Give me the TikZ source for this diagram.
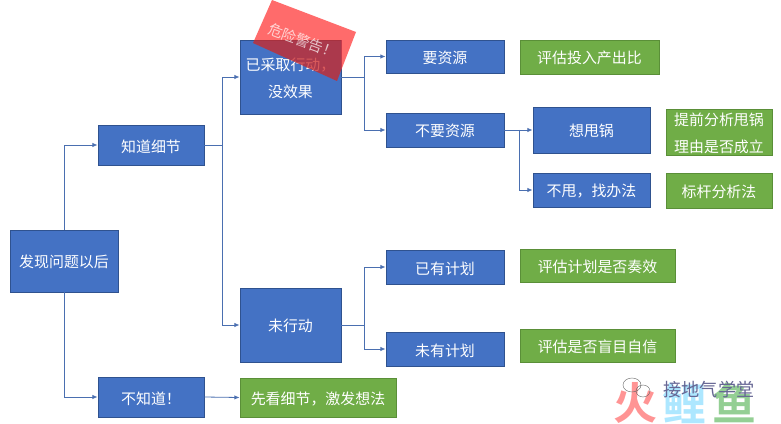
\documentclass[tikz,border=0pt]{standalone}
\usepackage{fontspec}
\setmainfont{Noto Sans CJK SC}
\newfontfamily\cjkbold{Noto Sans CJK SC Bold}
\usetikzlibrary{arrows.meta,positioning}
\definecolor{bluefill}{HTML}{4472C4}
\definecolor{blueline}{HTML}{2F528F}
\definecolor{greenfill}{HTML}{70AD47}
\definecolor{greenline}{HTML}{5A8F38}
\definecolor{linkcol}{HTML}{4A6FB0}
\definecolor{stampred}{HTML}{FF3232}
\tikzset{
  x=0.75pt,y=-0.75pt,
  bluebox/.style={draw=blueline,line width=0.7pt,fill=bluefill,text=white,font=\fontsize{11.2pt}{20.4pt}\selectfont,align=center,inner sep=0pt,anchor=center},
  greenbox/.style={draw=greenline,line width=0.7pt,fill=greenfill,text=white,font=\fontsize{11.2pt}{20.4pt}\selectfont,align=center,inner sep=0pt,anchor=center},
  link/.style={draw=linkcol,line width=0.6pt,-{Latex[length=3.8pt,width=3.2pt]}},
  plainlink/.style={draw=linkcol,line width=0.6pt},
}
\newcommand{\bbox}[6]{% name, x0, y0, x1, y1, text
  \pgfmathsetmacro{\bw}{(#4-#2)*0.75}\pgfmathsetmacro{\bh}{(#5-#3)*0.75}
  \node[bluebox,minimum width=\bw pt,minimum height=\bh pt] (#1) at ({(#2+#4)/2},{(#3+#5)/2}) {\rule{0pt}{11.4pt}#6};}
\newcommand{\gbox}[6]{%
  \pgfmathsetmacro{\bw}{(#4-#2)*0.75}\pgfmathsetmacro{\bh}{(#5-#3)*0.75}
  \node[greenbox,minimum width=\bw pt,minimum height=\bh pt] (#1) at ({(#2+#4)/2},{(#3+#5)/2}) {\rule{0pt}{11.4pt}#6};}
\begin{document}
\begin{tikzpicture}
\useasboundingbox (0,0) rectangle (781,424);
\fill[white] (0,0) rectangle (781,424);
% boxes
\bbox{root}{10}{230}{118}{292}{发现问题以后}
\bbox{know}{98}{125}{204}{165}{知道细节}
\bbox{noknow}{98}{377}{204}{417}{不知道！}
\gbox{look}{240}{378}{396}{417}{先看细节，激发想法}
\bbox{acted}{240}{40}{341}{114}{已采取行动，\\没效果}
\bbox{notacted}{240}{288}{341}{362}{未行动}
\bbox{need}{386}{40}{504}{73}{要资源}
\bbox{noneed}{386}{113}{504}{147}{不要资源}
\bbox{dump}{533}{107}{650}{153}{想甩锅}
\bbox{nodump}{533}{173}{650}{207}{不甩，找办法}
\bbox{plan}{386}{250}{504}{284}{已有计划}
\bbox{noplan}{386}{332}{504}{366}{未有计划}
\gbox{roi}{520}{40}{659}{74}{评估投入产出比}
\gbox{reason}{666}{109}{772}{155}{提前分析甩锅\\理由是否成立}
\gbox{bench}{666}{173}{772}{208}{标杆分析法}
\gbox{work}{520}{249}{675}{282.5}{评估计划是否奏效}
\gbox{blind}{520}{329}{675}{362.5}{评估是否盲目自信}
% junctions
\coordinate (j1) at (222,145);
\coordinate (j2) at (364,77);
\coordinate (j3) at (364,325);
\coordinate (j4) at (519,130);
% connectors
\draw[link] (root.north) |- (know.west);
\draw[link] (root.south) |- (noknow.west);
\draw[plainlink] (know.east) -- (j1);
\draw[link] (j1) |- (acted.west);
\draw[link] (j1) |- (notacted.west);
\draw[plainlink] (acted.east) -- (j2);
\draw[link] (j2) |- (need.west);
\draw[link] (j2) |- (noneed.west);
\draw[plainlink] (notacted.east) -- (j3);
\draw[link] (j3) |- (plan.west);
\draw[link] (j3) |- (noplan.west);
\draw[plainlink] (noneed.east) -- (j4);
\draw[link] (j4) -- (dump.west |- j4);
\draw[link] (j4) |- (nodump.west);
\draw[link] (noknow.east) -- (look.west);
% warning stamp
\fill[stampred,fill opacity=0.72] (272,0) -- (356,32) -- (337,81) -- (253,43) -- cycle;
\begin{scope}
\clip (272,0) -- (356,32) -- (337,81) -- (253,43) -- cycle;
\fill[black,fill opacity=0.15] (240,40) rectangle (341,114);
\end{scope}
\node[text=white,text opacity=0.7,rotate=-20,font=\fontsize{10.8pt}{14pt}\selectfont,inner sep=0pt] (warn) at (303,41) {危险警告！};
% watermark
\node[text=red!42!white,font=\fontsize{33pt}{33pt}\selectfont,inner sep=0pt] (wm1) at (635,403) {\cjkbold 火};
\node[text=blue!30!cyan!32!white,font=\fontsize{33pt}{33pt}\selectfont,inner sep=0pt] (wm2) at (684,403) {\cjkbold 鲤};
\node[text=green!55!black!42!white,font=\fontsize{33pt}{33pt}\selectfont,inner sep=0pt] (wm3) at (734,403) {\cjkbold 鱼};
\draw[black!60,line width=0.3pt] (632,385) ellipse [x radius=9,y radius=7];
\draw[black!60,line width=0.3pt] (643,391) ellipse [x radius=7,y radius=6];
\node[text=blue!30!black!60!white,font=\fontsize{13.6pt}{14pt}\selectfont,inner sep=0pt] (wm4) at (709,390) {接地气学堂};
\end{tikzpicture}
\end{document}
